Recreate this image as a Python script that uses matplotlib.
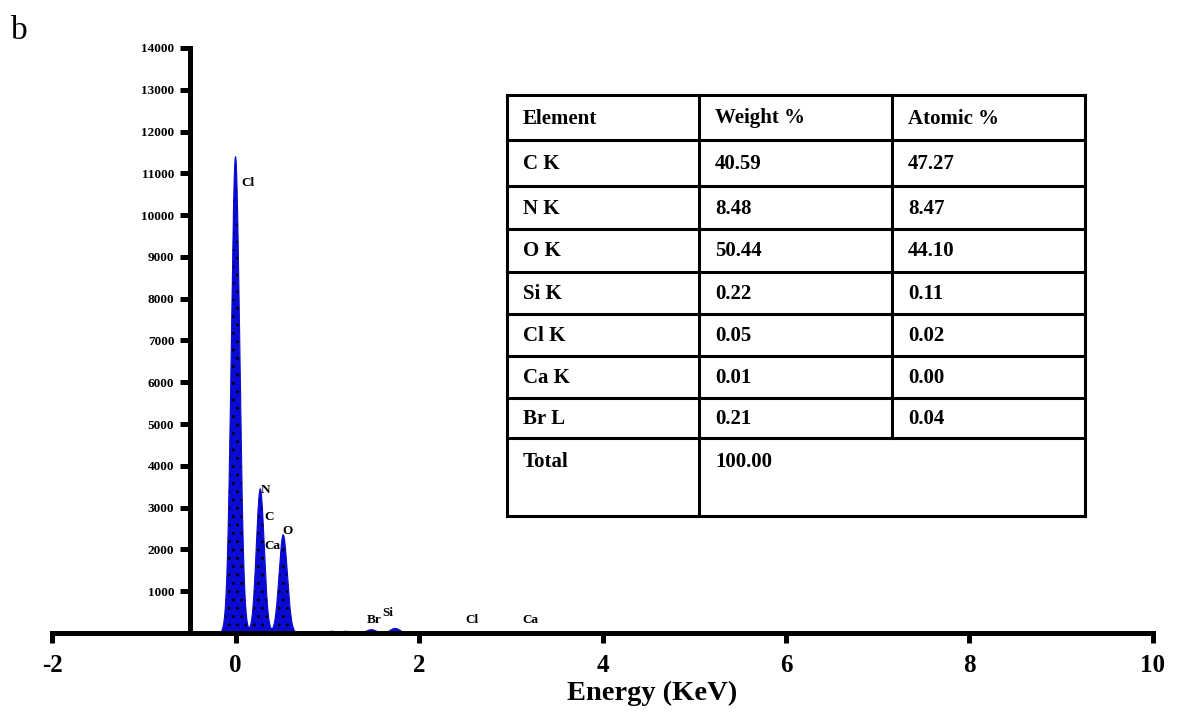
import numpy as np
from matplotlib import pyplot as plt

plt.rcParams['font.family'] = 'Liberation Serif'
plt.rcParams['font.weight'] = 'bold'
plt.rcParams['axes.unicode_minus'] = False
plt.rcParams['hatch.linewidth'] = 0.9

# peaks: energy (keV), counts, width (keV)
peak_energy = [0.0, 0.27, 0.52, 1.05, 1.2, 1.48, 1.74]
peak_counts = [11400, 3450, 2350, 40, 40, 80, 110]
peak_width = [0.046, 0.043, 0.045, 0.04, 0.04, 0.05, 0.05]

# peak labels
lab_text = ["Cl", "N", "C", "Ca", "O", "Br", "Si", "Cl", "Ca"]
lab_x = [0.06, 0.28, 0.31, 0.31, 0.51, 1.43, 1.60, 2.50, 3.13]
lab_y = [10700, 3350, 2700, 2020, 2380, 250, 400, 250, 250]

# table
tbl_head = ["Element", "Weight %", "Atomic %"]
tbl_elem = ["C K", "N K", "O K", "Si K", "Cl K", "Ca K", "Br L"]
tbl_wt = ["40.59", "8.48", "50.44", "0.22", "0.05", "0.01", "0.21"]
tbl_at = ["47.27", "8.47", "44.10", "0.11", "0.02", "0.00", "0.04"]
tbl_total = "100.00"

e = np.linspace(-0.3, 10, 4000)
counts = np.zeros_like(e)
for c, h, w in zip(peak_energy, peak_counts, peak_width):
    counts += h * np.exp(-0.5 * ((e - c) / w) ** 2)

fig = plt.figure(figsize=(11.77, 7.12), dpi=100)
ax = fig.add_axes([0.0442, 0.111, 0.9354, 0.8216])

ax.fill_between(e, 0, counts, where=counts > 15, linewidth=0,
                hatch="..", edgecolor="black", facecolor="#0a0ad2")
ax.plot(e, counts, color="#0a0ad2", lw=0.8)

for t, x, y in zip(lab_text, lab_x, lab_y):
    ax.text(x, y, t, fontsize=9.5, fontweight="bold")

ax.set_xlim(-2, 10)
ax.set_ylim(0, 14000)
ax.spines['left'].set_position(('data', -0.5))
ax.spines['right'].set_visible(False)
ax.spines['top'].set_visible(False)
ax.spines['left'].set_linewidth(3.6)
ax.spines['bottom'].set_linewidth(3.6)
ax.set_xticks(np.arange(-2, 11, 2))
ax.set_yticks(np.arange(1000, 14001, 1000))
ax.tick_params(axis='x', direction='out', length=7, width=3.6, labelsize=18, pad=8)
ax.tick_params(axis='y', direction='out', length=7, width=3.6, labelsize=9.5, pad=4)
for lb in ax.get_xticklabels() + ax.get_yticklabels():
    lb.set_fontweight("bold")
ax.set_xlabel("Energy (KeV)", fontsize=20.5, fontweight="bold")
ax.xaxis.set_label_coords(0.545, -0.081)

fig.text(0.009, 0.945, "b", fontsize=24, fontweight="normal")

# table drawn in figure pixels
W, H = 1177, 712
col_x = [507, 699, 892, 1085]
row_y = [95, 140, 186, 229, 272, 314, 356, 398, 438, 516]
lw = 2.2
def fx(p):
    return p / W
def fy(p):
    return 1 - p / H
for y in row_y:
    fig.add_artist(plt.Line2D([fx(col_x[0]), fx(col_x[-1])], [fy(y), fy(y)], color="black", lw=lw))
for i, x in enumerate(col_x):
    bottom = row_y[-1] if i != 2 else row_y[-2]
    fig.add_artist(plt.Line2D([fx(x), fx(x)], [fy(row_y[0]), fy(bottom)], color="black", lw=lw))

rows = [tbl_head] + [[a, b, c] for a, b, c in zip(tbl_elem, tbl_wt, tbl_at)]
for r, vals in enumerate(rows):
    yc = (row_y[r] + row_y[r + 1]) / 2 + 1
    for cidx, v in enumerate(vals):
        fig.text(fx(col_x[cidx] + 16), fy(yc), v, fontsize=15, fontweight="bold", va="center")
fig.text(fx(col_x[0] + 16), fy(462), "Total", fontsize=15, fontweight="bold", va="center")
fig.text(fx(col_x[1] + 16), fy(462), tbl_total, fontsize=15, fontweight="bold", va="center")

fig.savefig("out.png", dpi=100)
